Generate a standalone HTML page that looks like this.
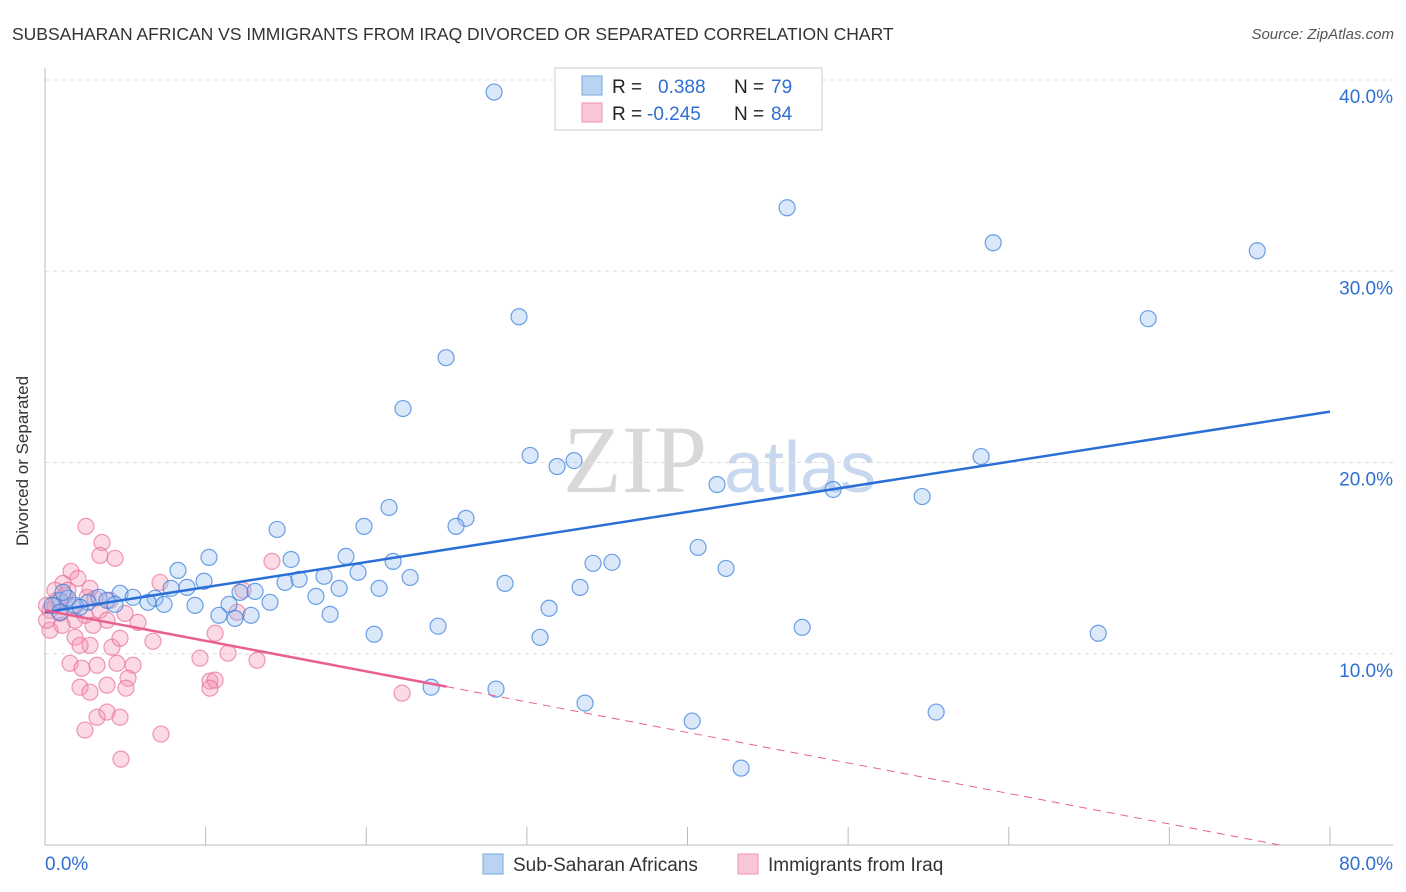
<!DOCTYPE html>
<html><head><meta charset="utf-8">
<style>
body{margin:0;background:#fff;font-family:"Liberation Sans",sans-serif;}
svg{display:block}
</style></head>
<body>
<svg id="chart" width="1406" height="892" xmlns="http://www.w3.org/2000/svg">
<text x="12" y="40" font-size="17.5" fill="#333">SUBSAHARAN AFRICAN VS IMMIGRANTS FROM IRAQ DIVORCED OR SEPARATED CORRELATION CHART</text>
<text x="1394" y="39" font-size="15" fill="#555" font-style="italic" text-anchor="end">Source: ZipAtlas.com</text>
<text x="635" y="492" font-size="96" fill="#d8d8d8" font-family="Liberation Serif" text-anchor="middle">ZIP</text>
<text x="800" y="492" font-size="72" fill="#c8d8ee" text-anchor="middle">atlas</text>
<text x="22" y="455" font-size="17" fill="#333" transform="rotate(-90 28 455)" text-anchor="middle">Divorced or Separated</text>
<g id="grid"></g><g id="axes"></g><g id="pink"></g><g id="blue"></g><g id="trends"></g>
<g>
<rect x="555" y="68" width="267" height="62" fill="#fff" stroke="#ccc"/>
<rect x="582" y="76" width="20" height="19" fill="#b9d3f3" stroke="#7aa7e0"/>
<rect x="582" y="103" width="20" height="19" fill="#f9c7d6" stroke="#ef93b0"/>
<text x="612" y="93" font-size="19" fill="#222">R =</text>
<text x="658" y="93" font-size="19" fill="#2f6fd1">0.388</text>
<text x="734" y="93" font-size="19" fill="#222">N =</text>
<text x="771" y="93" font-size="19" fill="#2f6fd1">79</text>
<text x="612" y="120" font-size="19" fill="#222">R =</text>
<text x="647" y="120" font-size="19" fill="#2f6fd1">-0.245</text>
<text x="734" y="120" font-size="19" fill="#222">N =</text>
<text x="771" y="120" font-size="19" fill="#2f6fd1">84</text>
</g>
<g>
<rect x="483" y="854" width="20" height="20" fill="#b9d3f3" stroke="#7aa7e0"/>
<text x="513" y="871" font-size="19" fill="#333">Sub-Saharan Africans</text>
<rect x="738" y="854" width="20" height="20" fill="#f9c7d6" stroke="#ef93b0"/>
<text x="768" y="871" font-size="19" fill="#333">Immigrants from Iraq</text>
</g>
</svg>
<script>
const yTicks=[10,20,30,40];
const yTickLabels=["10.0%","20.0%","30.0%","40.0%"];
const xTickVals=[0,10,20,30,40,50,60,70,80];
const blueX=[27.96,46.2,59.03,75.47,29.51,68.68,24.97,22.29,30.2,31.88,32.94,58.28,41.84,49.07,54.61,21.42,19.86,26.21,25.59,14.45,10.21,8.28,15.32,18.74,40.66,21.67,34.12,35.3,42.4,9.9,14.94,15.82,17.37,19.49,22.73,28.64,33.31,7.85,8.84,13.08,20.8,18.31,16.87,4.67,5.48,6.85,6.41,7.41,9.34,14.01,11.46,31.38,17.75,12.83,10.83,11.83,3.36,3.86,2.68,1.87,0.93,0.44,1.43,2.18,20.49,24.47,30.82,47.14,65.57,24.04,28.08,33.62,40.29,55.48,43.34,4.36,0.93,1.12,12.14];
const blueY=[39.37,33.32,31.49,31.07,27.62,27.52,25.48,22.82,20.37,19.79,20.1,20.31,18.85,18.59,18.22,17.65,16.66,17.08,16.66,16.5,15.04,14.36,14.93,15.09,15.56,14.83,14.73,14.78,14.46,13.79,13.73,13.89,14.05,14.26,13.99,13.68,13.47,13.42,13.47,13.26,13.42,13.42,13.0,13.16,12.95,12.9,12.69,12.58,12.53,12.69,12.58,12.38,12.06,12.01,12.01,11.85,12.95,12.79,12.69,12.53,12.79,12.53,12.9,12.43,11.02,11.44,10.86,11.38,11.07,8.25,8.15,7.42,6.48,6.95,4.02,12.58,12.17,13.21,13.21];
const pinkX=[2.55,3.55,3.42,4.36,1.62,2.05,1.12,0.62,0.75,0.31,0.93,0.31,1.74,2.62,3.42,3.86,4.98,5.79,2.99,1.87,2.8,2.18,4.17,4.67,6.72,1.56,2.3,3.24,4.48,5.48,2.18,2.8,3.86,5.17,5.04,3.24,3.86,4.67,2.49,7.22,4.73,7.16,14.13,12.33,11.96,10.59,9.65,11.39,13.2,10.27,10.59,10.27,22.23,0.1,0.1,1.25,3.11,4.05,1.87,2.49,0.62,1.43,2.8,1.06];
const pinkY=[16.66,15.82,15.14,14.99,14.31,13.94,13.68,13.32,12.79,12.27,12.11,11.23,12.43,12.95,12.27,11.75,12.11,11.64,11.49,10.86,10.44,10.44,10.34,10.81,10.65,9.5,9.24,9.4,9.5,9.4,8.25,7.99,8.36,8.72,8.2,6.68,6.95,6.68,6.01,5.8,4.49,13.73,14.83,13.32,12.17,11.07,9.77,10.03,9.66,8.57,8.62,8.2,7.94,12.53,11.75,13.05,12.9,12.79,11.75,12.01,12.53,13.32,13.42,11.49];
const blueTrend=[12.17,22.66];   // value at x=0, x=80
const pinkTrend=[12.27,-0.1596]; // intercept, slope
const pinkSolidEnd=25;

const NS="http://www.w3.org/2000/svg";
const X0=45,X1=1330,Y0=845,YT=80;
const sx=v=>X0+(X1-X0)*v/80;
const sy=v=>Y0-(Y0-YT)*v/40;
function mk(tag,attrs,parent){const e=document.createElementNS(NS,tag);for(const k in attrs)e.setAttribute(k,attrs[k]);parent.appendChild(e);return e;}
const grid=document.getElementById('grid'),axes=document.getElementById('axes');
yTicks.forEach((t,i)=>{
  const l=mk('line',{x1:X0,x2:1393,y1:sy(t),y2:sy(t),stroke:'#ddd','stroke-dasharray':'4,4'},grid);
  
  
  const tx=mk('text',{x:1393,y:sy(t)+23,'font-size':19,fill:'#2f6fd1','text-anchor':'end'},grid);
  tx.textContent=yTickLabels[i];
  
  
});
let a=mk('line',{x1:X0,x2:X0,y1:68,y2:Y0,stroke:'#bbb'},axes);


a=mk('line',{x1:X0,x2:1393,y1:Y0,y2:Y0,stroke:'#bbb'},axes);


for(let v=10;v<=80;v+=10){
  const t=mk('line',{x1:sx(v),x2:sx(v),y1:Y0,y2:Y0-18,stroke:'#bbb'},axes);
  
  
}
let xl=mk('text',{x:45,y:870,'font-size':19,fill:'#2f6fd1'},axes);xl.textContent='0.0%';


xl=mk('text',{x:1393,y:870,'font-size':19,fill:'#2f6fd1','text-anchor':'end'},axes);xl.textContent='80.0%';


function pts(xs,ys,g,fill,stroke,name){
  xs.forEach((x,i)=>{
    const c=mk('circle',{cx:sx(x),cy:sy(ys[i]),r:8,fill:fill,stroke:stroke,'stroke-width':1.2},g);
    
    
  });
}
pts(pinkX,pinkY,document.getElementById('pink'),'rgba(244,150,180,0.35)','rgba(232,110,150,0.7)','iraq-point');
pts(blueX,blueY,document.getElementById('blue'),'rgba(150,190,240,0.35)','rgba(60,130,220,0.75)','subsaharan-point');
const tr=document.getElementById('trends');
let ln=mk('line',{x1:sx(0),y1:sy(blueTrend[0]),x2:sx(80),y2:sy(blueTrend[1]),stroke:'#2a6fd6','stroke-width':2.5},tr);


const pf=x=>pinkTrend[0]+pinkTrend[1]*x;
ln=mk('line',{x1:sx(0),y1:sy(pf(0)),x2:sx(pinkSolidEnd),y2:sy(pf(pinkSolidEnd)),stroke:'#e8608e','stroke-width':2.5},tr);


const xEnd=-pinkTrend[0]/pinkTrend[1];
ln=mk('line',{x1:sx(pinkSolidEnd),y1:sy(pf(pinkSolidEnd)),x2:sx(xEnd),y2:sy(0),stroke:'#e8608e','stroke-width':1,'stroke-dasharray':'8,6'},tr);


</script>
</body></html>
